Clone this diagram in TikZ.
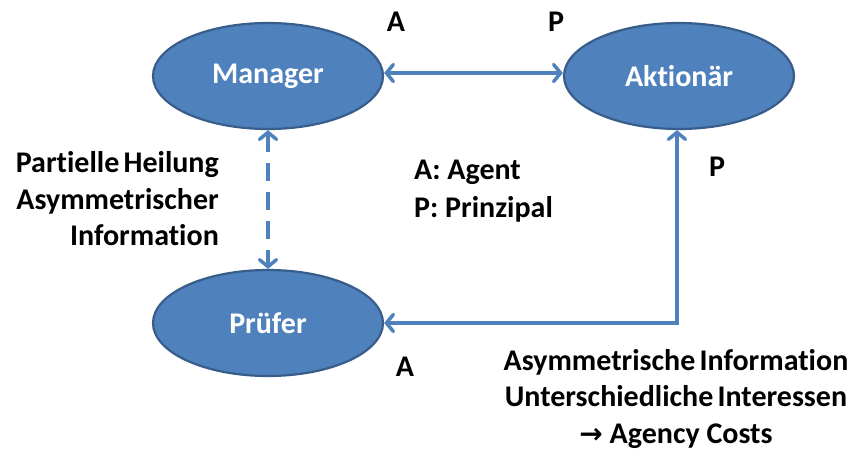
\documentclass[tikz,border=0pt]{standalone}
\usepackage{fontspec}
\setmainfont{Carlito}[Ligatures=NoCommon]
\usetikzlibrary{shapes.geometric,arrows.meta}
\definecolor{fillblue}{HTML}{4F81BD}
\definecolor{edgeblue}{HTML}{385D8A}
\newcommand{\tightwords}{\spaceskip=0.14em plus 0.02em\relax}
\tikzset{
  party/.style={ellipse, draw=edgeblue, line width=2.2pt, fill=fillblue,
    minimum width=230pt, minimum height=106pt, inner sep=0pt,
    text=white, font=\bfseries\fontsize{30}{36}\selectfont},
  link/.style={draw=fillblue, line width=3.5pt,
    {Straight Barb[length=7pt,width=17pt,line cap=round]}-{Straight Barb[length=7pt,width=17pt,line cap=round]}},
  role/.style={font=\bfseries\fontsize{30}{36}\selectfont, inner sep=0pt},
  note/.style={font=\bfseries\fontsize{30}{36.5}\selectfont, inner sep=0pt}
}
\begin{document}
\begin{tikzpicture}[x=1pt,y=-1pt]
\useasboundingbox (0,0) rectangle (855,450);
\node[party] (man) at (268,76) {Manager};
\node[party] (akt) at (679,76) {Aktionär};
\node[party] (pru) at (268,323) {Prüfer};

\draw[link] ([yshift=3pt]man.east) -- ([yshift=3pt]akt.west);
\draw[link, dash pattern=on 18pt off 11pt] (man.south) -- (pru.north);
\draw[link] ([xshift=-2pt]akt.south) |- (pru.east);

\node[role] (ra1) at (396,22) {A};
\node[role] (rp1) at (556,22) {P};
\node[role] (rp2) at (717,167) {P};
\node[role] (ra2) at (405,367) {A};

\node[note, align=right, anchor=east] (heal) at (219,199)
  {\tightwords Partielle Heilung\\Asymmetrischer\\Information};
\node[note, align=left, anchor=west, font=\bfseries\fontsize{30}{38}\selectfont] (leg) at (414,191)
  {A: Agent\\P: Prinzipal};
\node[note, align=center] (cost) at (676,399)
  {\tightwords Asymmetrische Information\\\tightwords Unterschiedliche Interessen\\{\fontspec{DejaVu Sans}\bfseries\fontsize{28}{36}\selectfont→} Agency Costs};
\end{tikzpicture}
\end{document}
